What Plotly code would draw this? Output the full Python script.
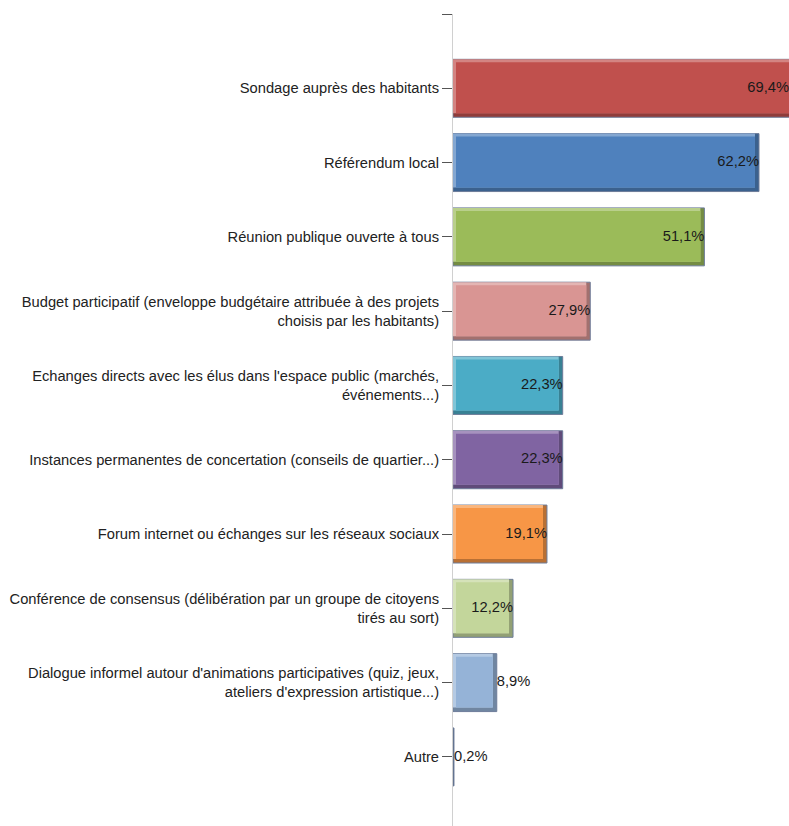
import plotly.graph_objects as go

# Survey results: preferred forms of citizen participation (% of respondents)
categories = [
    "Sondage auprès des habitants",
    "Référendum local",
    "Réunion publique ouverte à tous",
    "Budget participatif (enveloppe budgétaire attribuée à des projets<br>choisis par les habitants)",
    "Echanges directs avec les élus dans l'espace public (marchés,<br>événements...)",
    "Instances permanentes de concertation (conseils de quartier...)",
    "Forum internet ou échanges sur les réseaux sociaux",
    "Conférence de consensus (délibération par un groupe de citoyens<br>tirés au sort)",
    "Dialogue informel autour d'animations participatives (quiz, jeux,<br>ateliers d'expression artistique...)",
    "Autre",
]
values = [69.4, 62.2, 51.1, 27.9, 22.3, 22.3, 19.1, 12.2, 8.9, 0.2]
colors = [
    "#C0504D", "#4F81BD", "#9BBB59", "#D99593", "#4BACC6",
    "#8064A2", "#F79646", "#C3D69B", "#95B3D7", "#5B7096",
]
label_positions = ["middle left"] * 8 + ["middle right"] * 2

FONT = "Liberation Sans, Arial, sans-serif"
FONT_SIZE = 14.7

# Figure geometry
W_FIG, H_FIG = 789, 826
M_L, M_R, M_T, M_B = 453, 0, 14, 0
X_MAX = 68.3
Y_TOP, Y_BOTTOM = -1.0, 9.93
BAR_W = 0.78
LIGHT_PX, DARK_PX = 3, 4

x_scale = (W_FIG - M_L - M_R) / X_MAX            # px per %
y_scale = (H_FIG - M_T - M_B) / (Y_BOTTOM - Y_TOP)  # px per category


def mix(hex_color, target, t):
    h = hex_color.lstrip("#")
    r, g, b = (int(h[i:i + 2], 16) for i in (0, 2, 4))
    tr, tg, tb = target
    return "#%02X%02X%02X" % (
        round(r + (tr - r) * t), round(g + (tg - g) * t), round(b + (tb - b) * t)
    )


light = [mix(c, (255, 255, 255), 0.3) for c in colors]
dark = [mix(c, (0, 0, 0), 0.25) for c in colors]

idx = list(range(len(categories)))
dx_dark = DARK_PX / x_scale
dx_light = LIGHT_PX / x_scale
dy_dark = DARK_PX / y_scale
dy_light = LIGHT_PX / y_scale

fig = go.Figure()

# Shadow layer: full bar in the darker shade with a thin outline
fig.add_trace(go.Bar(
    x=values, y=idx, orientation="h",
    width=BAR_W, offset=-BAR_W / 2,
    marker=dict(color=dark, line=dict(color="#6D7C99", width=1)),
    hoverinfo="skip", showlegend=False,
))

# Highlight layer: top/left bevel
fig.add_trace(go.Bar(
    x=[max(v - dx_dark, 0) for v in values], y=idx, orientation="h",
    base=0, width=BAR_W - dy_dark, offset=-BAR_W / 2,
    marker=dict(color=light, line=dict(width=0)),
    hoverinfo="skip", showlegend=False,
))

# Face layer
fig.add_trace(go.Bar(
    x=[max(v - dx_dark - dx_light, 0) for v in values], y=idx, orientation="h",
    base=dx_light, width=BAR_W - dy_dark - dy_light,
    offset=-BAR_W / 2 + dy_light,
    marker=dict(color=colors, line=dict(width=0)),
    hoverinfo="skip", showlegend=False,
))

# Value labels at the end of each bar (kept inside the visible x range)
fig.add_trace(go.Scatter(
    x=[min(v, X_MAX) for v in values], y=idx, mode="text",
    text=[f"{v:.1f}".replace(".", ",") + "%" for v in values],
    textposition=label_positions,
    textfont=dict(family=FONT, size=FONT_SIZE, color="#1A1A1A"),
    cliponaxis=False,
    hoverinfo="skip", showlegend=False,
))

fig.update_layout(
    width=W_FIG, height=H_FIG,
    margin=dict(l=M_L, r=M_R, t=M_T, b=M_B, autoexpand=False),
    barmode="overlay",
    plot_bgcolor="white", paper_bgcolor="white",
    font=dict(family=FONT, size=FONT_SIZE, color="#222222"),
    xaxis=dict(
        range=[0, X_MAX], visible=False, showgrid=False, zeroline=False,
    ),
    yaxis=dict(
        range=[Y_BOTTOM, Y_TOP],
        tickmode="array",
        tickvals=[Y_TOP] + idx,
        ticktext=[""] + categories,
        ticks="outside", ticklen=10, tickwidth=1, tickcolor="#555555",
        showline=True, linecolor="#D0D0D0", linewidth=1,
        showgrid=False, zeroline=False,
        tickfont=dict(family=FONT, size=FONT_SIZE, color="#222222"),
    ),
)

fig.write_html("out.html")
